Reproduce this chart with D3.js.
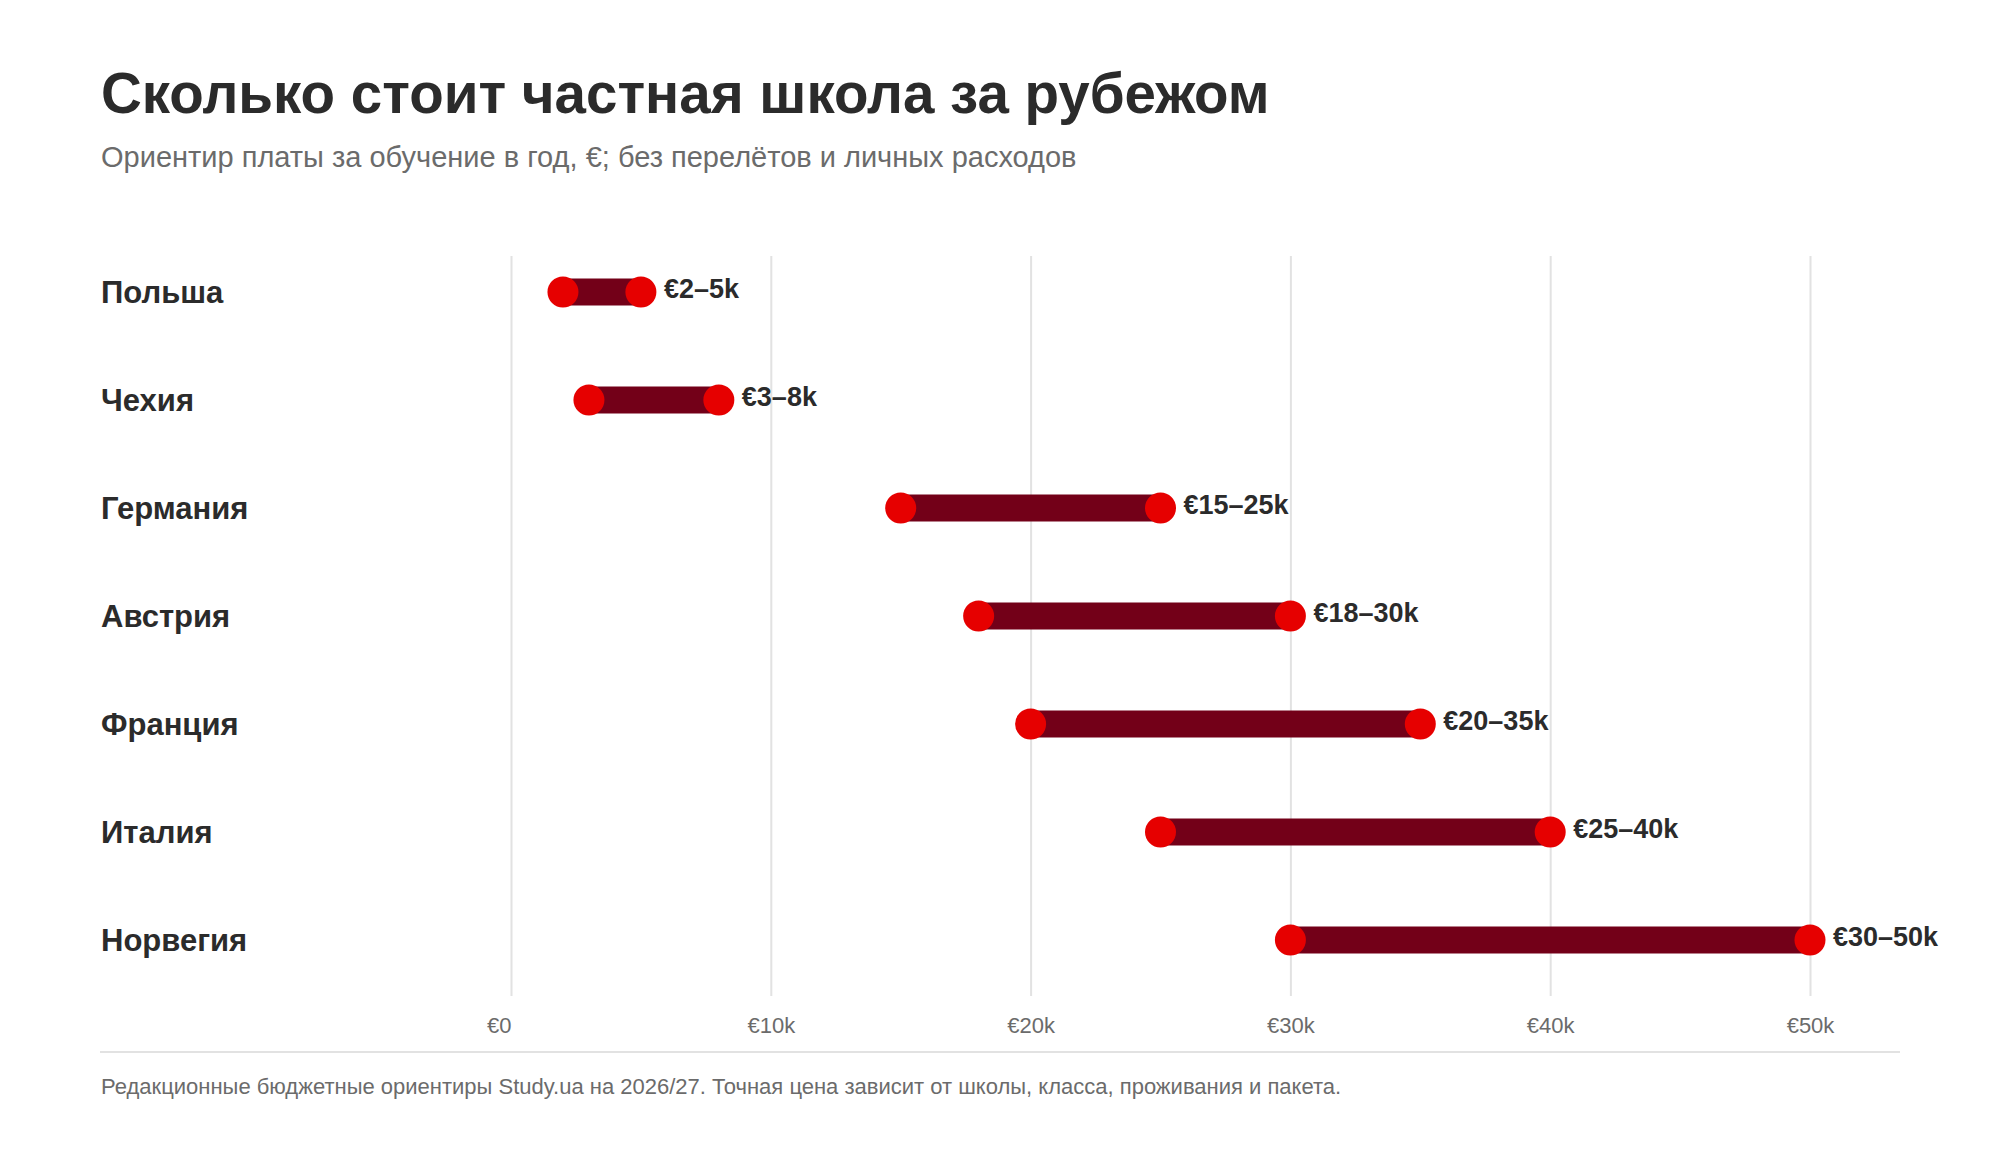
<!DOCTYPE html>
<html lang="ru">
<head>
<meta charset="utf-8">
<script src="https://cdn.jsdelivr.net/npm/d3@7"></script>
<style>
  html, body { margin: 0; padding: 0; background: #fff; }
  svg { display: block; font-family: "Liberation Sans", Arial, sans-serif; }
</style>
</head>
<body>
<div id="chart"></div>
<script>
// Data
const countries = ["Польша", "Чехия", "Германия", "Австрия", "Франция", "Италия", "Норвегия"];
const minFee = [2000, 3000, 15000, 18000, 20000, 25000, 30000];
const maxFee = [5000, 8000, 25000, 30000, 35000, 40000, 50000];
const rangeLabels = ["€2–5k", "€3–8k", "€15–25k", "€18–30k", "€20–35k", "€25–40k", "€30–50k"];
const tickValues = [0, 10000, 20000, 30000, 40000, 50000];
const tickLabels = ["€0", "€10k", "€20k", "€30k", "€40k", "€50k"];

const titleText = "Сколько стоит частная школа за рубежом";
const subtitleText = "Ориентир платы за обучение в год, €; без перелётов и личных расходов";
const footerText = "Редакционные бюджетные ориентиры Study.ua на 2026/27. Точная цена зависит от школы, класса, проживания и пакета.";

const W = 2000, H = 1160;

const svg = d3.select("#chart")
  .append("svg")
  .attr("width", W)
  .attr("height", H)
  .attr("viewBox", `0 0 ${W} ${H}`);

// Header
svg.append("text")
  .attr("x", 101)
  .attr("y", 113)
  .attr("font-size", 56.5)
  .attr("font-weight", "bold")
  .attr("fill", "#2b2b2b")
  .text(titleText);

svg.append("text")
  .attr("x", 101)
  .attr("y", 167)
  .attr("font-size", 29)
  .attr("fill", "#6b6b6b")
  .text(subtitleText);

// Scales
const xScale = d3.scaleLinear()
  .domain([0, 50000])
  .range([511, 1810]);

const yScale = d3.scalePoint()
  .domain(countries)
  .range([292, 940]);

const gridTop = 256, gridBottom = 996;

// Grid + axis labels
const axis = svg.append("g")
  .attr("transform", `translate(0,${gridBottom})`)
  .call(
    d3.axisBottom(xScale)
      .tickValues(tickValues)
      .tickSize(-(gridBottom - gridTop))
      .tickFormat((d, i) => tickLabels[i])
  );

axis.select(".domain").remove();
axis.selectAll(".tick line")
  .attr("stroke", "#e2e2e2")
  .attr("stroke-width", 2);
axis.selectAll(".tick text")
  .attr("font-family", "Liberation Sans, Arial, sans-serif")
  .attr("font-size", 22)
  .attr("fill", "#6b6b6b")
  .attr("dy", 0)
  .attr("y", 37)
  .attr("text-anchor", (d, i) => i === 0 ? "end" : "middle");

// Rows
const rows = countries.map((c, i) => ({
  country: c,
  lo: minFee[i],
  hi: maxFee[i],
  label: rangeLabels[i]
}));

svg.selectAll(".country-label")
  .data(rows)
  .enter()
  .append("text")
  .attr("class", "country-label")
  .attr("x", 101)
  .attr("y", d => yScale(d.country) + 11)
  .attr("font-size", 31)
  .attr("font-weight", "bold")
  .attr("fill", "#2b2b2b")
  .text(d => d.country);

svg.selectAll(".range-bar")
  .data(rows)
  .enter()
  .append("line")
  .attr("class", "range-bar")
  .attr("x1", d => xScale(d.lo))
  .attr("x2", d => xScale(d.hi))
  .attr("y1", d => yScale(d.country))
  .attr("y2", d => yScale(d.country))
  .attr("stroke", "#730018")
  .attr("stroke-width", 27);

const dots = rows.flatMap(d => [
  { country: d.country, value: d.lo },
  { country: d.country, value: d.hi }
]);

svg.selectAll(".dot")
  .data(dots)
  .enter()
  .append("circle")
  .attr("class", "dot")
  .attr("cx", d => xScale(d.value))
  .attr("cy", d => yScale(d.country))
  .attr("r", 15.5)
  .attr("fill", "#e60000");

svg.selectAll(".range-label")
  .data(rows)
  .enter()
  .append("text")
  .attr("class", "range-label")
  .attr("x", d => xScale(d.hi) + 23)
  .attr("y", d => yScale(d.country) + 6)
  .attr("font-size", 27)
  .attr("font-weight", "bold")
  .attr("fill", "#2b2b2b")
  .text(d => d.label);

// Footer
svg.append("line")
  .attr("x1", 100)
  .attr("x2", 1900)
  .attr("y1", 1052)
  .attr("y2", 1052)
  .attr("stroke", "#e2e2e2")
  .attr("stroke-width", 2);

svg.append("text")
  .attr("x", 101)
  .attr("y", 1094)
  .attr("font-size", 22)
  .attr("fill", "#6b6b6b")
  .text(footerText);
</script>
</body>
</html>
